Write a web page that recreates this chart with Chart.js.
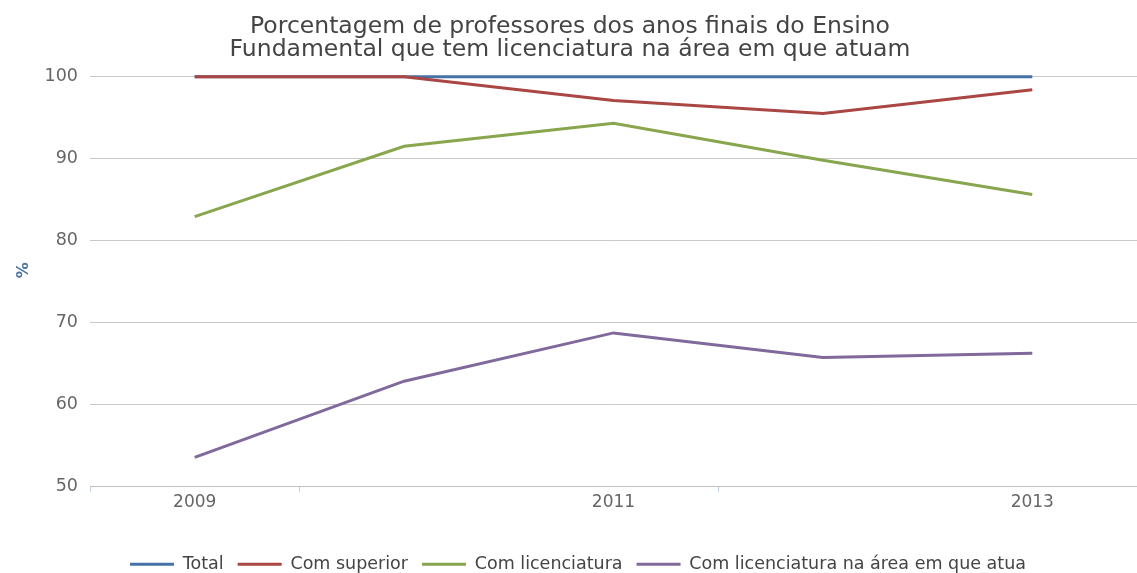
<!DOCTYPE html>
<html>
<head>
<meta charset="utf-8">
<script src="https://cdn.jsdelivr.net/npm/chart.js@4.4.1/dist/chart.umd.min.js"></script>
<style>
  html, body { margin: 0; padding: 0; background: #ffffff; }
  #wrap { width: 1137px; height: 573px; position: relative; }
</style>
</head>
<body>
<div id="wrap"><canvas id="chart"></canvas></div>
<script>
// Anos da série histórica
const years = ['2009', '2010', '2011', '2012', '2013'];

// Percentuais por grupo de professores
const total = [100, 100, 100, 100, 100];
const comSuperior = [100, 100, 97.1, 95.5, 98.4];
const comLicenciatura = [82.9, 91.5, 94.3, 89.8, 85.6];
const licenciaturaNaArea = [53.5, 62.8, 68.7, 65.7, 66.2];

// Rótulos do eixo X exibidos (os demais anos ficam sem texto)
const shownYears = ['2009', '2011', '2013'];

const titleLines = [
  'Porcentagem de professores dos anos finais do Ensino',
  'Fundamental que tem licenciatura na área em que atuam'
];

const FONT = "'DejaVu Sans', Verdana, sans-serif";

function series(label, data, color, order) {
  return {
    label: label,
    data: data,
    borderColor: color,
    backgroundColor: color,
    borderWidth: 3,
    pointRadius: 0,
    pointHoverRadius: 0,
    tension: 0,
    fill: false,
    clip: 6,
    order: order
  };
}

// Desloca a legenda um pouco para a direita
const legendShift = {
  id: 'legendShift',
  afterLayout(chart) {
    if (chart.legend) {
      chart.legend.left += 8;
      chart.legend.right += 8;
    }
  }
};

new Chart(document.getElementById('chart'), {
  type: 'line',
  data: {
    labels: years,
    datasets: [
      series('Total', total, '#4572A7', 3),
      series('Com superior', comSuperior, '#AA4643', 2),
      series('Com licenciatura', comLicenciatura, '#89A54E', 1),
      series('Com licenciatura na área em que atua', licenciaturaNaArea, '#80699B', 0)
    ]
  },
  plugins: [legendShift],
  options: {
    responsive: true,
    maintainAspectRatio: false,
    animation: false,
    layout: { padding: { top: 0, left: 0, right: -3, bottom: -10 } },
    plugins: {
      title: {
        display: true,
        text: titleLines,
        color: '#444444',
        font: { family: FONT, size: 23.5, weight: 'normal', lineHeight: 0.95 },
        padding: { top: 16, bottom: 16 }
      },
      legend: {
        position: 'bottom',
        labels: {
          usePointStyle: true,
          pointStyle: 'line',
          pointStyleWidth: 44,
          padding: 14,
          color: '#444444',
          font: { family: FONT, size: 17.5 },
          sort: (a, b) => a.datasetIndex - b.datasetIndex
        }
      },
      tooltip: { enabled: false }
    },
    scales: {
      x: {
        offset: true,
        afterFit: (scale) => { scale.height = 55.5; },
        border: { display: true, color: '#C0C0C0', width: 1 },
        grid: {
          offset: true,
          drawOnChartArea: false,
          drawTicks: true,
          tickLength: 6,
          color: (ctx) => [0, 1, 3].includes(ctx.index) ? '#C0D0E0' : 'rgba(0,0,0,0)'
        },
        ticks: {
          autoSkip: false,
          maxRotation: 0,
          padding: 0,
          color: '#666666',
          font: { family: FONT, size: 17 },
          callback: function (value, index) {
            const lbl = this.getLabelForValue(value);
            return shownYears.includes(lbl) ? lbl : '';
          }
        }
      },
      y: {
        min: 50,
        max: 100,
        afterFit: (scale) => { scale.width = 90; },
        border: { display: false },
        grid: { color: '#C8C8C8', lineWidth: 1, drawTicks: false },
        ticks: {
          stepSize: 10,
          padding: 12,
          color: '#666666',
          font: { family: FONT, size: 17.5 }
        },
        title: {
          display: true,
          text: '    %',
          color: '#4D759E',
          font: { family: FONT, size: 16, weight: 'bold' },
          padding: { top: 14, bottom: 0 }
        }
      }
    }
  }
});
</script>
</body>
</html>
